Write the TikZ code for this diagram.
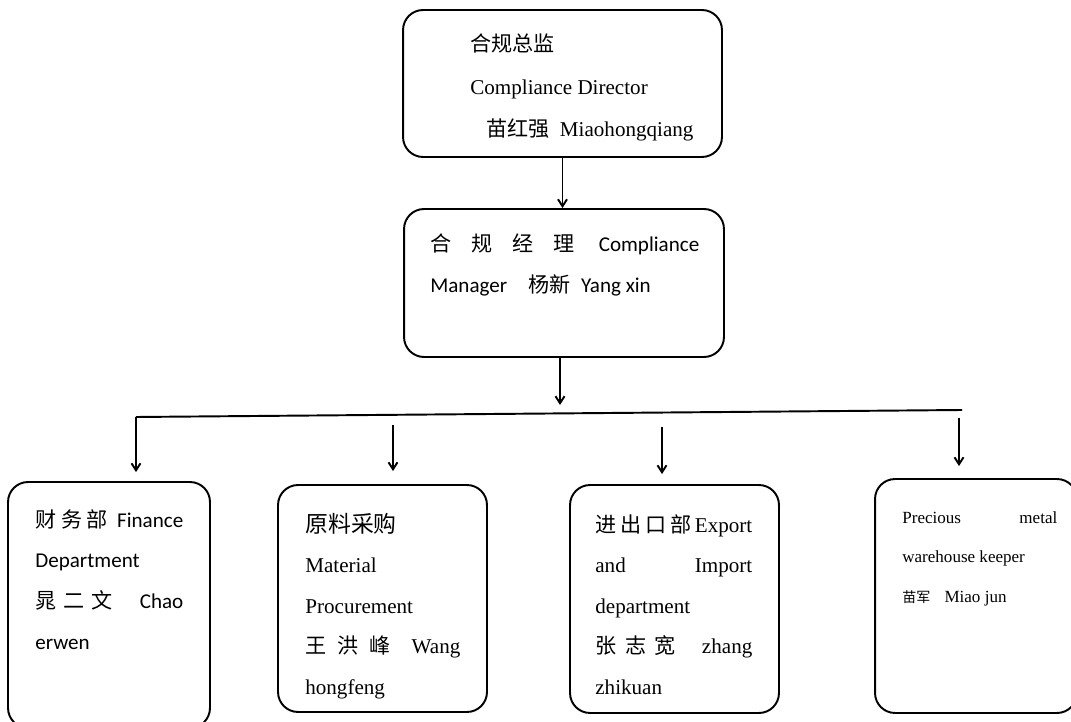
\documentclass[tikz,border=0pt]{standalone}
\usepackage{fontspec}
\usetikzlibrary{arrows.meta}
\setmainfont{Liberation Serif}
\newfontfamily\calibri{Carlito}
\newfontfamily\cjk{Noto Sans CJK SC}
\newcommand{\zh}[1]{{\cjk #1}}

\begin{document}
\begin{tikzpicture}[x=0.02cm, y=-0.02cm,
    kasten/.style={draw, rounded corners=0.4cm, line width=1.1pt, inner sep=0pt},
    txt/.style={anchor=base west, inner sep=0pt, align=flush left,
                font={\fontsize{12}{24}\selectfont}},
    pf/.style={-{Straight Barb[length=1.4mm, width=1.8mm]}, line width=1.1pt}]
    \useasboundingbox (0,0) rectangle (1071,722);
    \clip (0,0) rectangle (1071,722);
    \node[kasten, minimum width=6.38cm, minimum height=2.94cm] (dir)  at (562.5,83.5) {};
    \node[kasten, minimum width=6.4cm,  minimum height=2.96cm] (mgr)  at (564,283)    {};
    \node[kasten, minimum width=4.04cm, minimum height=4.92cm] (fin)  at (109,605)    {};
    \node[kasten, minimum width=4.18cm, minimum height=4.54cm] (proc) at (382.5,598.5) {};
    \node[kasten, minimum width=4.18cm, minimum height=4.56cm] (exp)  at (674.5,599)  {};
    \node[kasten, minimum width=4.04cm, minimum height=4.68cm] (keep) at (976,596)    {};
    \node[txt, text width=6cm] (dirt) at (470,52)
        {\zh{合规总监}\\Compliance Director\\\hspace*{9pt}\zh{苗红强}\ \ Miaohongqiang};
    \node[txt, text width=5.38cm, font={\calibri\fontsize{12}{23.3}\selectfont}] (mgrt) at (430,252)
        {\zh{合}\hfill\zh{规}\hfill\zh{经}\hfill\zh{理}\hfill\ Compliance\\Manager\quad\zh{杨新}\enspace Yang xin};
    \node[txt, text width=2.96cm, font={\calibri\fontsize{12}{23.3}\selectfont}] (fint) at (35,527)
        {\zh{财}\hfill\zh{务}\hfill\zh{部}\hfill\ Finance\\Department\\\zh{晁}\hfill\zh{二}\hfill\zh{文}\hfill\hfill\hfill\hfill Chao\\erwen};
    \node[txt, text width=3.1cm, font={\fontsize{12}{23.1}\selectfont}] (proct) at (305,532)
        {{\cjk\fontsize{13}{23.1}\selectfont 原料采购}\\Material\\Procurement\\\zh{王}\hfill\zh{洪}\hfill\zh{峰}\hfill\hfill Wang\\hongfeng};
    \node[txt, text width=3.14cm, font={\fontsize{12}{23.1}\selectfont}] (expt) at (595,532)
        {\zh{进}\hfill\zh{出}\hfill\zh{口}\hfill\zh{部}\hfill Export\\and\hfill Import\\department\\\zh{张}\hfill\zh{志}\hfill\zh{宽}\hfill\hfill\hfill zhang\\zhikuan};
    \node[txt, text width=3.1cm, font={\fontsize{9.7}{22.5}\selectfont}] (keept) at (902,523)
        {Precious\hfill metal\\warehouse keeper\\{\cjk\fontsize{8}{22.5}\selectfont 苗军}\hspace{8pt}Miao jun};
    \coordinate (v)  at (560,405);
    \coordinate (hl) at (136,417);
    \coordinate (hr) at (962,410);
    \coordinate (p2) at (393,425);
    \coordinate (p3) at (662,427);
    \coordinate (p4) at (959,418);
    \draw[pf] (dir.south) -- (dir.south |- mgr.north);
    \draw[pf] (mgr.south -| v) -- (v);
    \draw[line width=1.1pt] (hl) -- (hr);
    \draw[pf, shorten >=0.18cm] (hl) -- (hl |- fin.north);
    \draw[pf, shorten >=0.26cm] (p2) -- (p2 |- proc.north);
    \draw[pf, shorten >=0.2cm]  (p3) -- (p3 |- exp.north);
    \draw[pf, shorten >=0.24cm] (p4) -- (p4 |- keep.north);
\end{tikzpicture}
\end{document}
